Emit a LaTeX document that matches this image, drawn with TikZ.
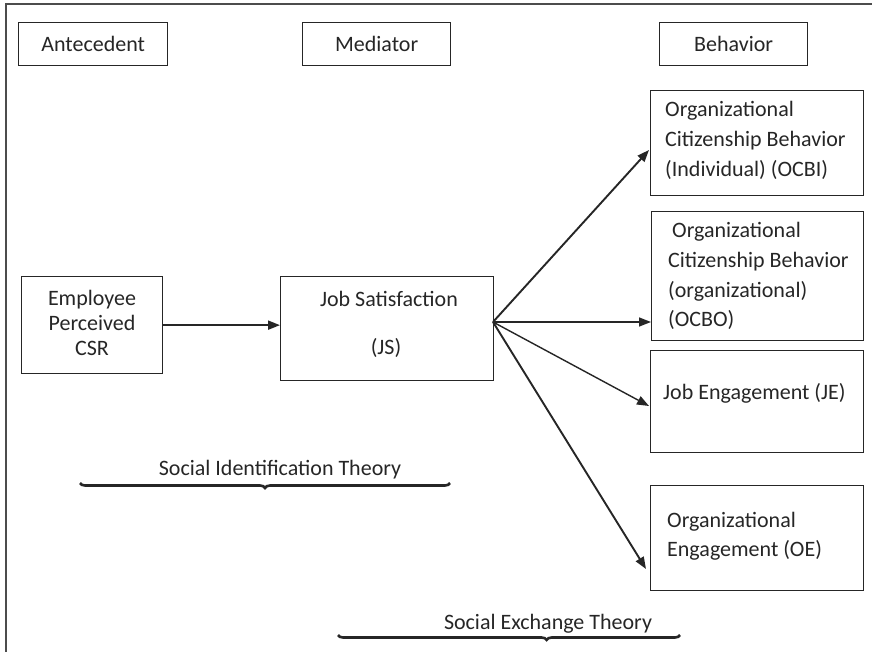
\documentclass[tikz,border=0pt]{standalone}
\usepackage{fontspec}
\setmainfont{Carlito}
\usetikzlibrary{arrows.meta,decorations.pathreplacing}
\definecolor{ink}{HTML}{262626}
\begin{document}
\begin{tikzpicture}[x=1pt,y=-1pt,
  box/.style={draw=ink,line width=1.3pt,inner sep=0pt,anchor=north west},
  hdr/.style={box,text=ink,font=\fontsize{22}{30}\selectfont},
  txt/.style={inner sep=0pt,anchor=base west,text=ink,font=\fontsize{22}{30}\selectfont},
  ctxt/.style={inner sep=0pt,anchor=base,text=ink,font=\fontsize{22}{30}\selectfont},
  arr/.style={-{Triangle[length=12pt,width=9pt]},line width=1.9pt,draw=ink},
  arrthin/.style={arr,line width=1.4pt},
  brc/.style={decorate,decoration={brace,mirror,amplitude=5pt},line width=2.6pt,draw=ink}]
\useasboundingbox (0,0) rectangle (872,652);
% outer frame
\draw[line width=1.3pt,draw=black!70] (6,652) -- (6,4) -- (872,4);
% header boxes
\node[hdr,minimum width=149pt,minimum height=43pt] (ant) at (18,22) {Antecedent};
\node[hdr,minimum width=148pt,minimum height=43pt] (med) at (302,22) {Mediator};
\node[hdr,minimum width=148pt,minimum height=43pt] (beh) at (659,22) {Behavior};
% employee box
\node[box,minimum width=141pt,minimum height=97pt] (emp) at (21,276) {};
\node[ctxt] (emp1) at (92,305) {Employee};
\node[ctxt] (emp2) at (92,330) {Perceived};
\node[ctxt] (emp3) at (92,355) {CSR};
% job satisfaction
\node[box,minimum width=213pt,minimum height=104pt] (js) at (280,276) {};
\node[ctxt] (js1) at (389,306) {Job Satisfaction};
\node[ctxt] (js2) at (386,354) {(JS)};
% OCBI
\node[box,minimum width=213pt,minimum height=105pt] (ocbi) at (650,90) {};
\node[txt] (ocbi1) at (665,117) {Organizational};
\node[txt] (ocbi2) at (665,147) {Citizenship Behavior};
\node[txt] (ocbi3) at (665,177) {(Individual) (OCBI)};
% OCBO
\node[box,minimum width=212pt,minimum height=129pt] (ocbo) at (651,211) {};
\node[txt] (ocbo1) at (672,238) {Organizational};
\node[txt] (ocbo2) at (668,268) {Citizenship Behavior};
\node[txt] (ocbo3) at (668,297) {(organizational)};
\node[txt] (ocbo4) at (668,326) {(OCBO)};
% JE
\node[box,minimum width=213pt,minimum height=102pt] (je) at (650,350) {};
\node[txt] (je1) at (663,399) {Job Engagement (JE)};
% OE
\node[box,minimum width=213pt,minimum height=105pt] (oe) at (650,485) {};
\node[txt] (oe1) at (667,527) {Organizational};
\node[txt] (oe2) at (667,556) {Engagement (OE)};
% connectors
\draw[arr] (emp.east) -- (emp.east -| js.west);
\coordinate (fan) at (493,322);
\coordinate (t1) at (649,150);
\coordinate (t2) at (651,322);
\coordinate (t3) at (649,406);
\coordinate (t4) at (646,569);
\draw[arr] (fan) -- (t1);
\draw[arrthin] (fan) -- (t2);
\draw[arrthin] (fan) -- (t3);
\draw[arr] (fan) -- (t4);
% theories
\node[ctxt] (sit) at (280,475) {Social Identification Theory};
\coordinate (b1a) at (80,483);
\coordinate (b1b) at (450,483);
\draw[brc] (b1a) -- (b1b);
\node[ctxt] (set) at (548,629) {Social Exchange Theory};
\coordinate (b2a) at (338,635);
\coordinate (b2b) at (680,635);
\draw[brc,decoration={aspect=0.61}] (b2a) -- (b2b);
\end{tikzpicture}
\end{document}
